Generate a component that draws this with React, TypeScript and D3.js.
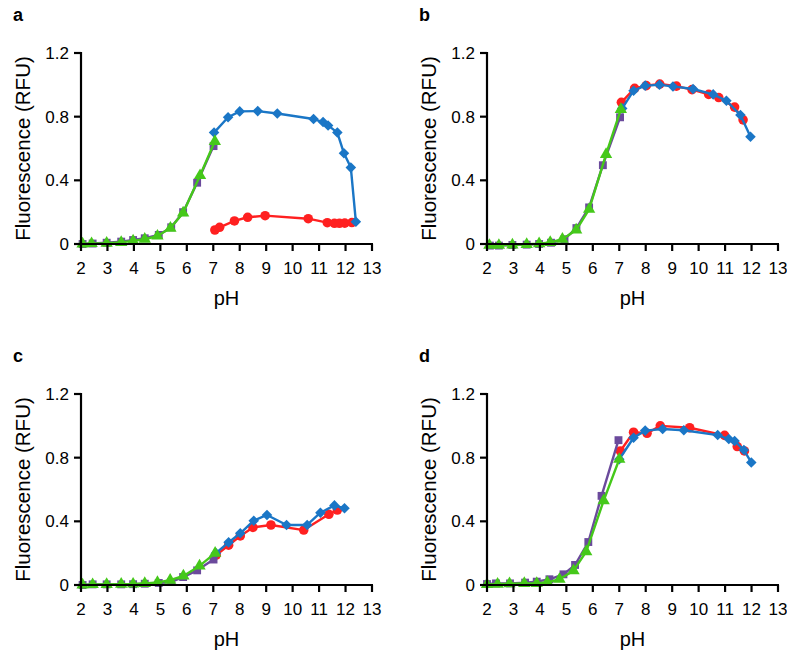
import React from 'react';
import * as d3 from 'd3';

// pH ticks and fluorescence ticks
const xTicks = [2, 3, 4, 5, 6, 7, 8, 9, 10, 11, 12, 13];
const yTicks = [0, 0.4, 0.8, 1.2];

// [pH, RFU]
const aPurple = [[2.06, 0], [2.44, 0.003], [2.97, 0.008], [3.52, 0.015], [3.97, 0.025], [4.41, 0.036], [4.94, 0.057], [5.41, 0.105], [5.86, 0.2], [6.39, 0.385], [7.01, 0.615]];
const aGreen = [[2.06, 0], [2.4, 0.003], [2.97, 0.005], [3.52, 0.01], [3.97, 0.02], [4.41, 0.03], [4.89, 0.05], [5.38, 0.1], [5.86, 0.195], [6.5, 0.43], [7.06, 0.645]];
const aRed = [[7.06, 0.088], [7.24, 0.105], [7.8, 0.145], [8.3, 0.168], [8.96, 0.178], [10.59, 0.159], [11.31, 0.134], [11.58, 0.13], [11.77, 0.13], [11.97, 0.131], [12.24, 0.135]];
const aBlue = [[7.03, 0.7], [7.56, 0.796], [8.0, 0.833], [8.68, 0.835], [9.42, 0.82], [10.79, 0.785], [11.15, 0.766], [11.34, 0.745], [11.69, 0.7], [11.94, 0.57], [12.2, 0.48], [12.39, 0.14]];

const bPurple = [[2.11, -0.01], [2.45, -0.01], [2.96, -0.006], [3.5, -0.004], [3.97, 0], [4.42, 0.008], [4.93, 0.03], [5.38, 0.1], [5.86, 0.23], [6.38, 0.495], [7.03, 0.796]];
const bGreen = [[2.09, -0.008], [2.45, -0.008], [2.96, -0.006], [3.5, -0.002], [3.97, 0.002], [4.39, 0.01], [4.85, 0.03], [5.37, 0.088], [5.86, 0.218], [6.5, 0.563], [7.06, 0.846]];
const bRed = [[7.08, 0.89], [7.58, 0.978], [8.02, 0.995], [8.53, 1.005], [9.16, 0.992], [9.75, 0.97], [10.38, 0.94], [10.76, 0.92], [11.36, 0.86], [11.68, 0.78]];
const bBlue = [[7.11, 0.852], [7.54, 0.963], [7.98, 0.995], [8.52, 1.0], [9.03, 0.99], [9.79, 0.974], [10.55, 0.94], [11.05, 0.9], [11.58, 0.81], [11.96, 0.674]];

const cPurple = [[2.06, 0], [2.44, 0.004], [2.97, 0.004], [3.52, 0.004], [3.97, 0.005], [4.41, 0.008], [4.94, 0.013], [5.41, 0.019], [5.86, 0.05], [6.39, 0.092], [7.01, 0.16]];
const cGreen = [[2.06, 0], [2.44, 0.003], [2.97, 0.004], [3.52, 0.005], [3.97, 0.006], [4.41, 0.01], [4.89, 0.016], [5.37, 0.031], [5.87, 0.057], [6.48, 0.12], [7.07, 0.2]];
const cRed = [[7.11, 0.188], [7.58, 0.25], [8.02, 0.308], [8.5, 0.362], [9.18, 0.377], [10.42, 0.345], [11.37, 0.444], [11.69, 0.471]];
const cBlue = [[7.1, 0.2], [7.58, 0.268], [8.02, 0.325], [8.53, 0.404], [9.03, 0.44], [9.77, 0.377], [10.55, 0.377], [11.05, 0.454], [11.58, 0.5], [11.96, 0.482]];

const dPurple = [[2.0, 0.006], [2.34, 0.01], [2.87, 0.01], [3.44, 0.015], [3.88, 0.021], [4.36, 0.036], [4.89, 0.067], [5.33, 0.126], [5.83, 0.27], [6.33, 0.56], [6.97, 0.91]];
const dGreen = [[2.0, 0.003], [2.4, 0.005], [2.85, 0.008], [3.41, 0.01], [3.88, 0.01], [4.28, 0.017], [4.74, 0.036], [5.27, 0.09], [5.75, 0.21], [6.41, 0.53], [7.0, 0.79]];
const dRed = [[7.04, 0.842], [7.54, 0.96], [8.05, 0.953], [8.55, 1.0], [9.66, 0.988], [10.98, 0.94], [11.46, 0.87], [11.73, 0.842]];
const dBlue = [[7.0, 0.79], [7.54, 0.925], [7.98, 0.97], [8.64, 0.98], [9.44, 0.972], [10.72, 0.942], [11.14, 0.917], [11.36, 0.905], [11.71, 0.848], [11.99, 0.77]];

const panelLabels = ['a', 'b', 'c', 'd'];
const panelData = [
  [aRed, aBlue, aPurple, aGreen],
  [bRed, bBlue, bPurple, bGreen],
  [cRed, cBlue, cPurple, cGreen],
  [dRed, dBlue, dPurple, dGreen],
];

const colors = ['#ff2020', '#1a76c6', '#6b4a9c', '#45c81a'];
const shapes = [d3.symbolCircle, d3.symbolSquare, d3.symbolSquare, d3.symbolTriangle];
const sizes = [72, 56, 62, 66];
const rotations = [0, 45, 0, 0];

const font = 'Liberation Sans, Arial, Helvetica, sans-serif';
const W = 291;
const H = 191;
const origins = [[81, 53], [487, 53], [81, 394], [487, 394]];

const Panel = ({ idx }: { idx: number }) => {
  const [ox, oy] = origins[idx];
  const x = d3.scaleLinear().domain([2, 13]).range([ox, ox + W]);
  const y = d3.scaleLinear().domain([0, 1.2]).range([oy + H, oy]);
  const line = d3.line<number[]>().x(d => x(d[0])).y(d => y(d[1]));
  const y0 = y(0);

  return (
    <g>
      <text x={ox - 68} y={oy - 32} fontFamily={font} fontWeight="bold" fontSize={18}>{panelLabels[idx]}</text>
      {panelData[idx].map((s, si) => (
        <g key={si}>
          <path d={line(s) || ''} fill="none" stroke={colors[si]} strokeWidth={2.4} strokeLinejoin="round" />
          {s.map((d, k) => (
            <path key={k}
              d={d3.symbol().type(shapes[si]).size(sizes[si])() || ''}
              transform={`translate(${x(d[0])},${y(d[1])}) rotate(${rotations[si]})`}
              fill={colors[si]} />
          ))}
        </g>
      ))}
      {/* axes */}
      <line x1={ox} x2={ox} y1={oy - 1} y2={y0 + 1} stroke="#000" strokeWidth={2.2} />
      <line x1={ox - 1} x2={ox + W + 1} y1={y0} y2={y0} stroke="#000" strokeWidth={2.2} />
      {yTicks.map(t => (
        <g key={t}>
          <line x1={ox - 7} x2={ox} y1={y(t)} y2={y(t)} stroke="#000" strokeWidth={2.2} />
          <text x={ox - 12} y={y(t)} dy="0.36em" textAnchor="end" fontFamily={font} fontSize={17}>{t === 0 ? '0' : t.toFixed(1)}</text>
        </g>
      ))}
      {xTicks.map(t => (
        <g key={t}>
          <line x1={x(t)} x2={x(t)} y1={y0} y2={y0 + 7} stroke="#000" strokeWidth={2.2} />
          <text x={x(t)} y={y0 + 30} textAnchor="middle" fontFamily={font} fontSize={17}>{t}</text>
        </g>
      ))}
      <text x={ox + W / 2} y={y0 + 61} textAnchor="middle" fontFamily={font} fontSize={20}>pH</text>
      <text transform={`translate(${ox - 51},${oy + H / 2}) rotate(-90)`} textAnchor="middle" fontFamily={font} fontSize={20.5}>Fluorescence (RFU)</text>
    </g>
  );
};

export default function App() {
  return (
    <svg width={787} height={653} style={{ display: 'block', position: 'absolute', left: 0, top: 0, background: '#fff' }}>
      {[0, 1, 2, 3].map(i => <Panel key={i} idx={i} />)}
    </svg>
  );
}
